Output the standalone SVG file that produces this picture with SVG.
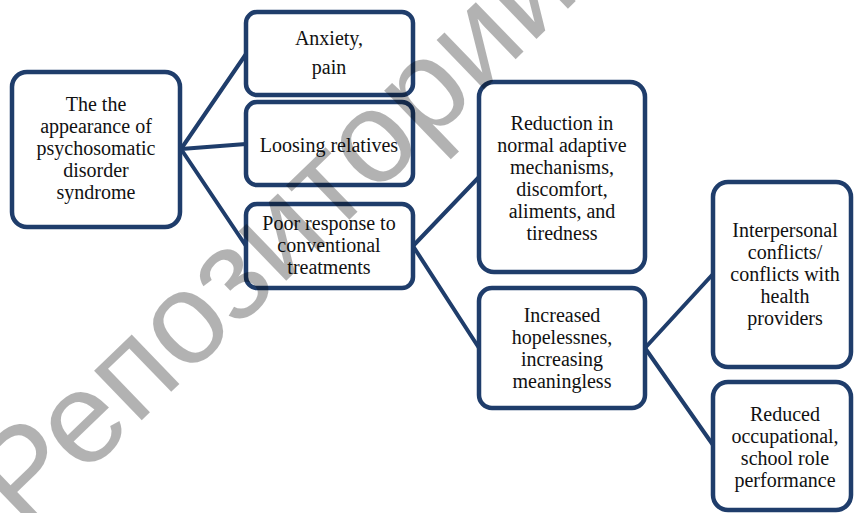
<svg xmlns="http://www.w3.org/2000/svg" width="855" height="513" viewBox="0 0 855 513">
<style>
.box{fill:#ffffff;stroke:#1F3D6B;stroke-width:4.5}
.lbl{font-family:"Liberation Serif","Times New Roman","DejaVu Serif",serif;font-size:20px;fill:#111111;text-anchor:middle}
.con line{stroke:#1F3D6B;stroke-width:4;stroke-linecap:round}
.wm{font-family:"Liberation Sans",Arial,sans-serif;font-size:130px;fill:#000000;fill-opacity:0.3}
</style>
<rect width="855" height="513" fill="#ffffff"/>
<g id="connectors" class="con">
<line x1="181" y1="149" x2="246" y2="54"/>
<line x1="181" y1="149" x2="246" y2="144"/>
<line x1="181" y1="149" x2="246" y2="246"/>
<line x1="413" y1="246" x2="479" y2="177"/>
<line x1="413" y1="246" x2="479" y2="348"/>
<line x1="645" y1="348" x2="713" y2="274"/>
<line x1="645" y1="348" x2="713" y2="445"/>
</g>
<g id="root">
<rect class="box" x="12" y="72" width="168" height="155" rx="15"/>
<text class="lbl"><tspan x="96" y="111">The the</tspan><tspan x="96" y="133">appearance of</tspan><tspan x="96" y="155">psychosomatic</tspan><tspan x="96" y="177">disorder</tspan><tspan x="96" y="199">syndrome</tspan></text>
</g>
<g id="anxiety">
<rect class="box" x="246" y="12" width="167" height="83" rx="11"/>
<text class="lbl"><tspan x="329" y="45">Anxiety,</tspan><tspan x="329" y="74">pain</tspan></text>
</g>
<g id="loosing">
<rect class="box" x="246" y="102" width="167" height="83" rx="11"/>
<text class="lbl" x="329" y="152">Loosing relatives</text>
</g>
<g id="poor">
<rect class="box" x="246" y="204" width="167" height="84" rx="11"/>
<text class="lbl"><tspan x="329" y="230">Poor response to</tspan><tspan x="329" y="252">conventional</tspan><tspan x="329" y="274">treatments</tspan></text>
</g>
<g id="reduction">
<rect class="box" x="479" y="82" width="166" height="190" rx="15"/>
<text class="lbl"><tspan x="562" y="130">Reduction in</tspan><tspan x="562" y="152">normal adaptive</tspan><tspan x="562" y="174">mechanisms,</tspan><tspan x="562" y="196">discomfort,</tspan><tspan x="562" y="218">aliments, and</tspan><tspan x="562" y="240">tiredness</tspan></text>
</g>
<g id="increased">
<rect class="box" x="479" y="288" width="166" height="120" rx="13"/>
<text class="lbl"><tspan x="562" y="322">Increased</tspan><tspan x="562" y="344">hopelessnes,</tspan><tspan x="562" y="366">increasing</tspan><tspan x="562" y="388">meaningless</tspan></text>
</g>
<g id="interpersonal">
<rect class="box" x="713" y="182" width="138" height="185" rx="15"/>
<text class="lbl"><tspan x="785" y="237">Interpersonal</tspan><tspan x="785" y="259">conflicts/</tspan><tspan x="785" y="281">conflicts with</tspan><tspan x="785" y="303">health</tspan><tspan x="785" y="325">providers</tspan></text>
</g>
<g id="reduced">
<rect class="box" x="713" y="382" width="138" height="128" rx="15"/>
<text class="lbl"><tspan x="785" y="421">Reduced</tspan><tspan x="785" y="443">occupational,</tspan><tspan x="785" y="465">school role</tspan><tspan x="785" y="487">performance</tspan></text>
</g>
<text class="wm" x="25" y="533" transform="rotate(-44 25 533)">Репозиторий</text>
</svg>
